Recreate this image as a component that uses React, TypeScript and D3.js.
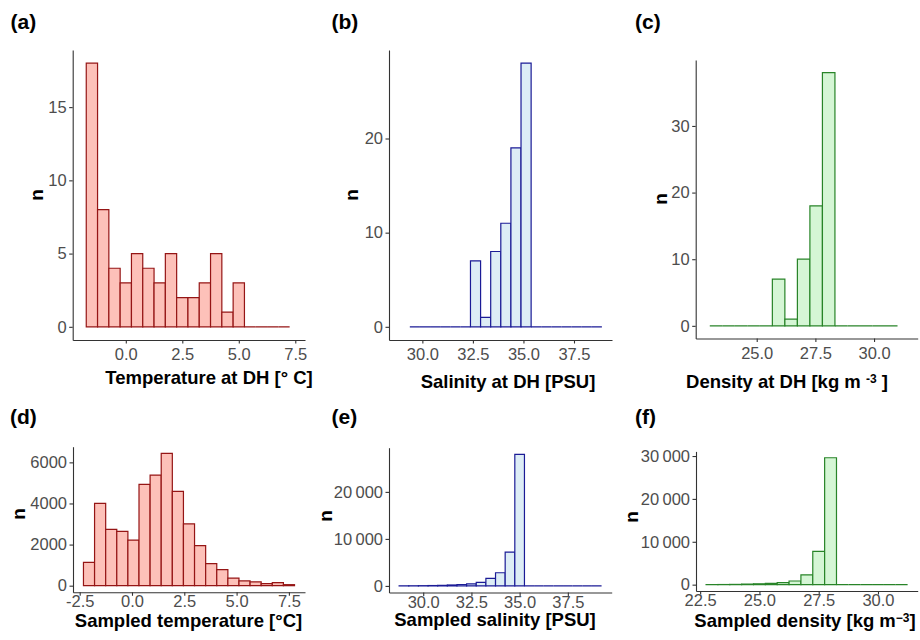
import React, { useEffect } from 'react';
import * as d3 from 'd3';

// ---- data (bin start, bin width, counts per bin) ----
const tempDhStart = -1.75;
const tempDhBin = 0.5;
const tempDhCounts = [18, 8, 4, 3, 5, 4, 3, 5, 2, 2, 3, 5, 1, 3, 0, 0, 0, 0];
const tempDhXTicks = [0, 2.5, 5, 7.5];
const tempDhYTicks = [0, 5, 10, 15];

const salDhStart = 29.38;
const salDhBin = 0.5;
const salDhCounts = [0, 0, 0, 0, 0, 0, 7, 1, 8, 11, 19, 28, 0, 0, 0, 0, 0, 0, 0];
const salDhXTicks = [30, 32.5, 35, 37.5];
const salDhYTicks = [0, 10, 20];

const denDhStart = 23.0;
const denDhBin = 8 / 15;
const denDhCounts = [0, 0, 0, 0, 0, 7, 1, 10, 18, 38, 0, 0, 0, 0, 0];
const denDhXTicks = [25, 27.5, 30];
const denDhYTicks = [0, 10, 20, 30];

const tempSStart = -2.32;
const tempSBin = 0.531;
const tempSCounts = [1130, 4000, 2740, 2640, 2220, 4930, 5380, 6440, 4590, 3010, 1950, 1070, 780, 370, 230, 190, 100, 150, 50];
const tempSXTicks = [-2.5, 0, 2.5, 5, 7.5];
const tempSYTicks = [0, 2000, 4000, 6000];

const salSStart = 28.75;
const salSBin = 0.5;
const salSCounts = [20, 30, 50, 80, 120, 200, 300, 450, 750, 1600, 2800, 7200, 28000, 0, 0, 0, 0, 0, 0, 0, 0];
const salSXTicks = [30, 32.5, 35, 37.5];
const salSYTicks = [0, 10000, 20000];

const denSStart = 22.75;
const denSBin = 0.5;
const denSCounts = [15, 30, 60, 130, 200, 300, 460, 850, 2300, 7750, 29600, 0, 0, 0, 0, 0, 0];
const denSXTicks = [22.5, 25, 27.5, 30];
const denSYTicks = [0, 10000, 20000, 30000];

const RED = { fill: '#fdc1b9', stroke: '#951515' };
const BLUE = { fill: '#ddedf6', stroke: '#1b1b96' };
const GREEN = { fill: '#d5f6d5', stroke: '#288428' };

const FONT = '"Liberation Sans", Arial, Helvetica, sans-serif';
const TICK_FS = 16.5;

function fmtX(d: number) {
  return d3.format('.1f')(d).replace('−', '-');
}
function fmtY(d: number) {
  if (d >= 10000) {
    const s = String(d);
    return s.slice(0, s.length - 3) + '\u2009' + s.slice(s.length - 3);
  }
  return String(d);
}

const panels = [
  { tag: '(a)', start: tempDhStart, bin: tempDhBin, counts: tempDhCounts, xTicks: tempDhXTicks, yTicks: tempDhYTicks,
    xDomain: [-2.35, 7.93], box: { l: 72.7, r: 305, t: 50, b: 340 }, col: RED,
    title: [{ t: 'Temperature at DH [° C]' }], titleX: 209, titleY: 384, nX: 38, nY: 195, tagX: 10.5, tagY: 29, xBase: 20 },
  { tag: '(b)', start: salDhStart, bin: salDhBin, counts: salDhCounts, xTicks: salDhXTicks, yTicks: salDhYTicks,
    xDomain: [28.35, 39.38], box: { l: 389, r: 612, t: 50, b: 340 }, col: BLUE,
    title: [{ t: 'Salinity at DH [PSU]' }], titleX: 508, titleY: 388, nX: 353.3, nY: 195, tagX: 331.5, tagY: 29, xBase: 20 },
  { tag: '(c)', start: denDhStart, bin: denDhBin, counts: denDhCounts, xTicks: denDhXTicks, yTicks: denDhYTicks,
    xDomain: [22.4, 31.86], box: { l: 695.7, r: 917.7, t: 60, b: 338.5 }, col: GREEN,
    title: [{ t: 'Density at DH [kg m ' }, { t: '-3', sup: true }, { t: ' ]' }], titleX: 787, titleY: 388, nX: 661.7, nY: 199, tagX: 635, tagY: 29, xBase: 20 },
  { tag: '(d)', start: tempSStart, bin: tempSBin, counts: tempSCounts, xTicks: tempSXTicks, yTicks: tempSYTicks,
    xDomain: [-2.82, 8.27], box: { l: 73, r: 305, t: 446.7, b: 592.3 }, col: RED,
    title: [{ t: 'Sampled temperature [°C]' }], titleX: 188.5, titleY: 626.5, nX: 20, nY: 514, tagX: 10, tagY: 424, xBase: 15 },
  { tag: '(e)', start: salSStart, bin: salSBin, counts: salSCounts, xTicks: salSXTicks, yTicks: salSYTicks,
    xDomain: [28.225, 39.775], box: { l: 389, r: 611.7, t: 447.7, b: 592.5 }, col: BLUE,
    title: [{ t: 'Sampled salinity [PSU]' }], titleX: 495, titleY: 626, nX: 326.7, nY: 516, tagX: 331.5, tagY: 424, xBase: 15 },
  { tag: '(f)', start: denSStart, bin: denSBin, counts: denSCounts, xTicks: denSXTicks, yTicks: denSYTicks,
    xDomain: [22.325, 31.675], box: { l: 696, r: 917.7, t: 451.4, b: 591 }, col: GREEN,
    title: [{ t: 'Sampled density [kg m' }, { t: '\u22123', sup: true }, { t: ']' }], titleX: 805, titleY: 626.5, nX: 633.3, nY: 517, tagX: 635, tagY: 424, xBase: 15 },
];

function App() {
  useEffect(() => {
    drawChart();
  });

  function drawChart() {
    document.body.style.margin = '0';
    const width = 920;
    const height = 640;

    d3.select('#hist-grid').select('svg').remove();

    const svg = d3
      .select('#hist-grid')
      .append('svg')
      .attr('width', width)
      .attr('height', height)
      .style('display', 'block')
      .style('background', 'white')
      .style('font-family', FONT);

    panels.forEach((p) => {
      const maxN = d3.max(p.counts) as number;
      const x = d3.scaleLinear().domain(p.xDomain).range([p.box.l, p.box.r]);
      const y = d3.scaleLinear().domain([-0.05 * maxN, 1.05 * maxN]).range([p.box.b, p.box.t]);

      const g = svg.append('g');

      // bars (zero bins still show as a flat line like ggplot)
      const bins = p.counts.map((c, i) => ({ x0: p.start + i * p.bin, x1: p.start + (i + 1) * p.bin, n: c }));
      g.append('g')
        .selectAll('path')
        .data(bins)
        .enter()
        .append('path')
        .attr('d', (d) => `M${x(d.x0)},${y(0)}V${y(d.n)}H${x(d.x1)}V${y(0)}Z`)
        .attr('fill', p.col.fill)
        .attr('stroke', p.col.stroke)
        .attr('stroke-width', 1.2);

      // axes
      const xAxis = d3.axisBottom(x).tickValues(p.xTicks).tickFormat((d) => fmtX(d as number))
        .tickSize(3.5).tickSizeOuter(0).tickPadding(0);
      const yAxis = d3.axisLeft(y).tickValues(p.yTicks).tickFormat((d) => fmtY(d as number))
        .tickSize(3.5).tickSizeOuter(0).tickPadding(2.5);

      const gx = g.append('g').attr('transform', `translate(0,${p.box.b})`).call(xAxis);
      const gy = g.append('g').attr('transform', `translate(${p.box.l},0)`).call(yAxis);

      [gx, gy].forEach((ax) => {
        ax.select('.domain').attr('stroke', '#333').attr('stroke-width', 1.1);
        ax.selectAll('.tick line').attr('stroke', '#333').attr('stroke-width', 1.1);
        ax.selectAll('.tick text')
          .attr('fill', '#4d4d4d')
          .style('font-size', TICK_FS + 'px')
          .style('font-family', FONT);
      });
      // x tick labels: put baseline at a fixed offset under the axis
      gx.selectAll('.tick text').attr('y', p.xBase).attr('dy', 0);

      // x title
      const tt = svg.append('text')
        .attr('x', p.titleX)
        .attr('y', p.titleY)
        .attr('text-anchor', 'middle')
        .style('font-size', '18.5px')
        .style('font-weight', 'bold')
        .attr('fill', '#000');
      p.title.forEach((s: any) => {
        const ts = tt.append('tspan').text(s.t);
        if (s.sup) {
          ts.attr('baseline-shift', '45%').style('font-size', '12px');
        }
      });

      // y title
      svg.append('text')
        .attr('transform', `translate(${p.nX + 0.26 * 19},${p.nY}) rotate(-90)`)
        .attr('text-anchor', 'middle')
        .style('font-size', '19px')
        .style('font-weight', 'bold')
        .attr('fill', '#000')
        .text('n');

      // panel tag
      svg.append('text')
        .attr('x', p.tagX)
        .attr('y', p.tagY)
        .style('font-size', '21px')
        .style('font-weight', 'bold')
        .attr('fill', '#000')
        .text(p.tag);
    });
  }

  return <div id="hist-grid" />;
}

export default App;
